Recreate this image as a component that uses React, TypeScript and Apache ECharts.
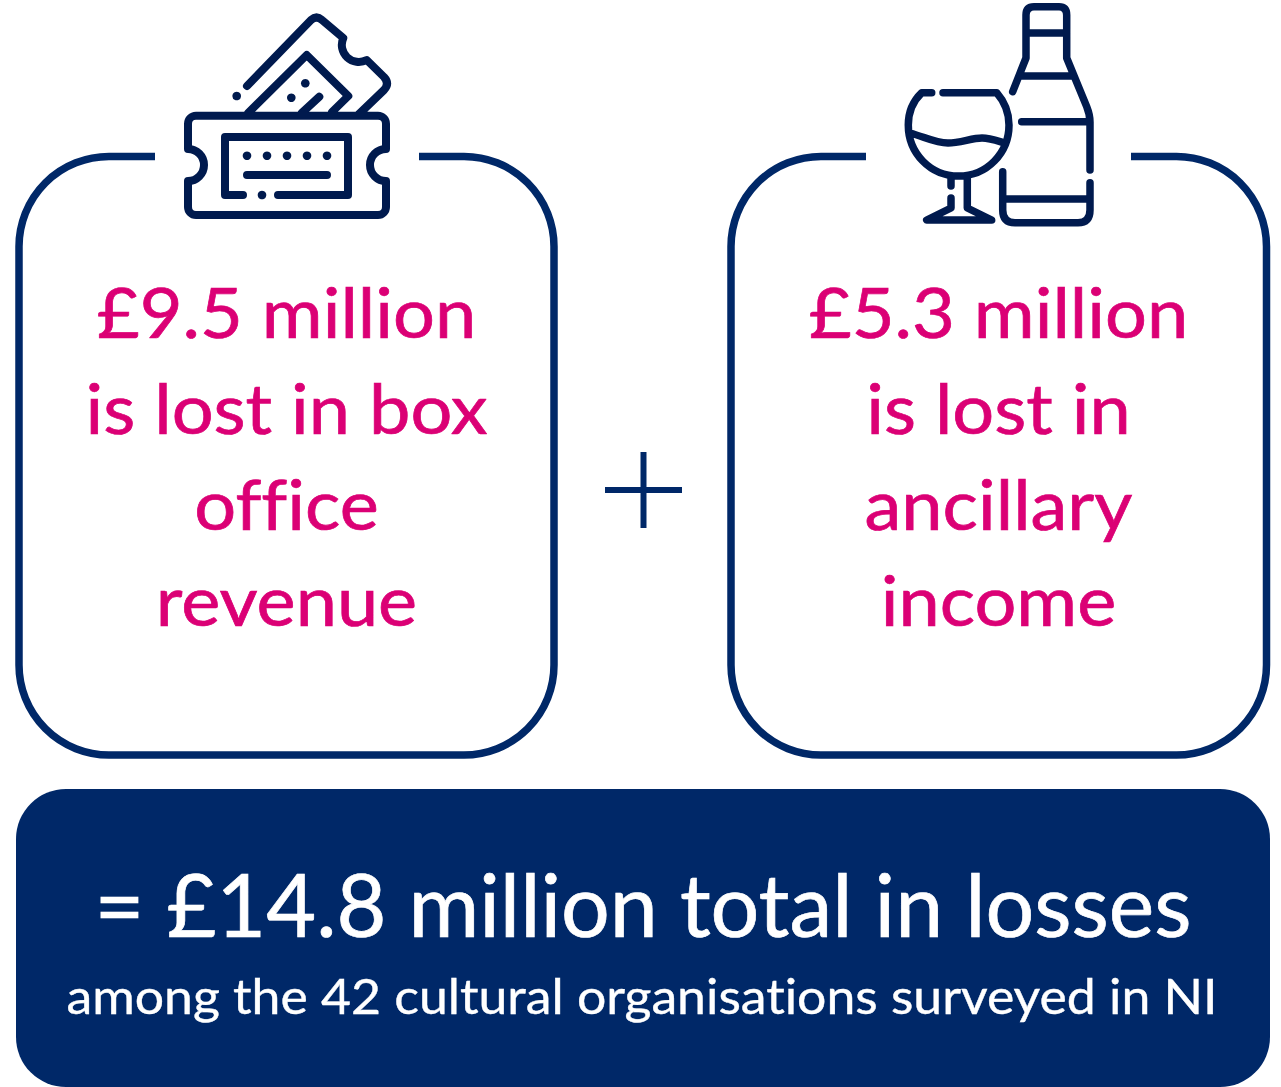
import React, { useEffect, useRef } from "react";
import * as echarts from "echarts";

const NAVY = "#002868";
const ICON = "#001A4E";
const PINK = "#DB0075";
const FONT = "Lato, Carlito, sans-serif";

const leftLines = ["£9.5 million", "is lost in box", "office", "revenue"];
const rightLines = ["£5.3 million", "is lost in", "ancillary", "income"];
const totalLine = "= £14.8 million total in losses";
const subLine = "among the 42 cultural organisations surveyed in NI";

const box = (l: number, r: number, gapL: number, gapR: number) =>
  `M${gapL},156.5 H${l + 90} A90,90 0 0 0 ${l},246.5 V665 A90,90 0 0 0 ${l + 90},755 H${r - 90} A90,90 0 0 0 ${r},665 V246.5 A90,90 0 0 0 ${r - 90},156.5 H${gapR}`;

const ticket =
  "M196,115.7 H378 A8,8 0 0 1 386,123.7 V149 A16,16 0 0 0 386,181 V207 A8,8 0 0 1 378,215 H196 A8,8 0 0 1 188,207 V181 A16,16 0 0 0 188,149 V123.7 A8,8 0 0 1 196,115.7 Z " +
  "M243,195 H225 V137 H348 V195 H278 M247,175 H327 " +
  "M247,86 L311,20 Q316.5,15 322,20 L343.3,38 A17,17 0 0 0 366.7,60 L384,77 Q390,83.5 384,90 L358,115 " +
  "M248,113 L306.7,55 L348.3,96 L332,112 M301.7,113 L319.3,96.7";
const ticketDots: [number, number][] = [
  [247, 155.7], [267, 155.7], [287, 155.7], [307, 155.7], [327, 155.7],
  [262, 195], [236.7, 96], [305.3, 83.3], [291.3, 97.7],
];

const bottle =
  "M1012.7,91.7 L1026,58 V15 Q1026,6.7 1034,6.7 H1059 Q1066.7,6.7 1066.7,15 V58 L1086.7,106.7 Q1090,115 1090,122 V170 " +
  "M1026,33 H1066.7 M1020,76 H1071.7 M1021.7,121.7 H1088 M1002.7,199 H1090 " +
  "M1090,182.7 V210 Q1090,222.7 1078,222.7 H1015 Q1002.7,222.7 1002.7,210 V171.7";
const glass =
  "M931.7,92.7 H921.7 C913,101 908.3,112 908.3,125 C908.3,153 930,176 958.5,176 C987,176 1009,153 1009,125 C1009,112 1004,101 996.7,92.7 H943 " +
  "M910,133 C925,137 935,143 948,143 C960,143 972,138 982,138 C990,138 998,141 1005,143 " +
  "M951,177 V186 M951,198 V208 L926.7,220 H991.7 L967.3,208 V177";

echarts.graphic.registerShape("boxLeft", echarts.graphic.extendPath(box(19, 554, 155, 419), {}));
echarts.graphic.registerShape("boxRight", echarts.graphic.extendPath(box(731, 1266.5, 866, 1131), {}));
echarts.graphic.registerShape("ticket", echarts.graphic.extendPath(ticket, {}));
echarts.graphic.registerShape("bottle", echarts.graphic.extendPath(bottle, {}));
echarts.graphic.registerShape("glass", echarts.graphic.extendPath(glass, {}));

const stroke = (color: string, lineWidth: number, lineCap = "round") => ({
  fill: "none", stroke: color, lineWidth, lineCap, lineJoin: "round",
});

const LINE_Y = [311, 407, 503, 599];

const text = (s: string, x: number, y: number, size: number, fill: string, scaleX = 1, bold = 0.7) => ({
  type: "text", x, y, scaleX,
  style: { text: s, fill, stroke: fill, lineWidth: bold, font: `${size}px ${FONT}`, textAlign: "center", textVerticalAlign: "middle" },
});

export default function App() {
  const ref = useRef<HTMLDivElement>(null);
  useEffect(() => {
    document.body.style.margin = "0";
    const chart = echarts.init(ref.current!, null, { renderer: "svg" });
    chart.setOption({
      animation: false,
      backgroundColor: "#ffffff",
      graphic: [
        { type: "boxLeft", style: stroke(NAVY, 7.5, "butt") },
        { type: "boxRight", style: stroke(NAVY, 7.5, "butt") },
        { type: "ticket", style: stroke(ICON, 8) },
        { type: "bottle", style: stroke(ICON, 7.5) },
        { type: "glass", style: stroke(ICON, 7.5) },
        ...ticketDots.map(([cx, cy]) => ({ type: "circle", shape: { cx, cy, r: 4.3 }, style: { fill: ICON } })),
        { type: "line", shape: { x1: 605, y1: 490, x2: 682, y2: 490 }, style: { stroke: NAVY, lineWidth: 6 } },
        { type: "line", shape: { x1: 643.5, y1: 452, x2: 643.5, y2: 528 }, style: { stroke: NAVY, lineWidth: 6 } },
        { type: "rect", shape: { x: 16, y: 789, width: 1254, height: 298, r: 50 }, style: { fill: NAVY } },
        ...leftLines.map((s, i) => text(s, 286.5, LINE_Y[i], 69, PINK, 1.072)),
        ...rightLines.map((s, i) => text(s, 998.5, LINE_Y[i], 69, PINK, 1.072)),
        text(totalLine, 643, 903, 88, "#ffffff", 0.978),
        text(subLine, 642, 995, 49, "#ffffff", 1.056, 0.4),
      ],
    });
    return () => chart.dispose();
  }, []);
  return (
    <>
      <style>{"svg text { font-variant-ligatures: none !important; }"}</style>
      <div ref={ref} style={{ position: "absolute", left: 0, top: 0, width: 1281, height: 1087 }} />
    </>
  );
}
